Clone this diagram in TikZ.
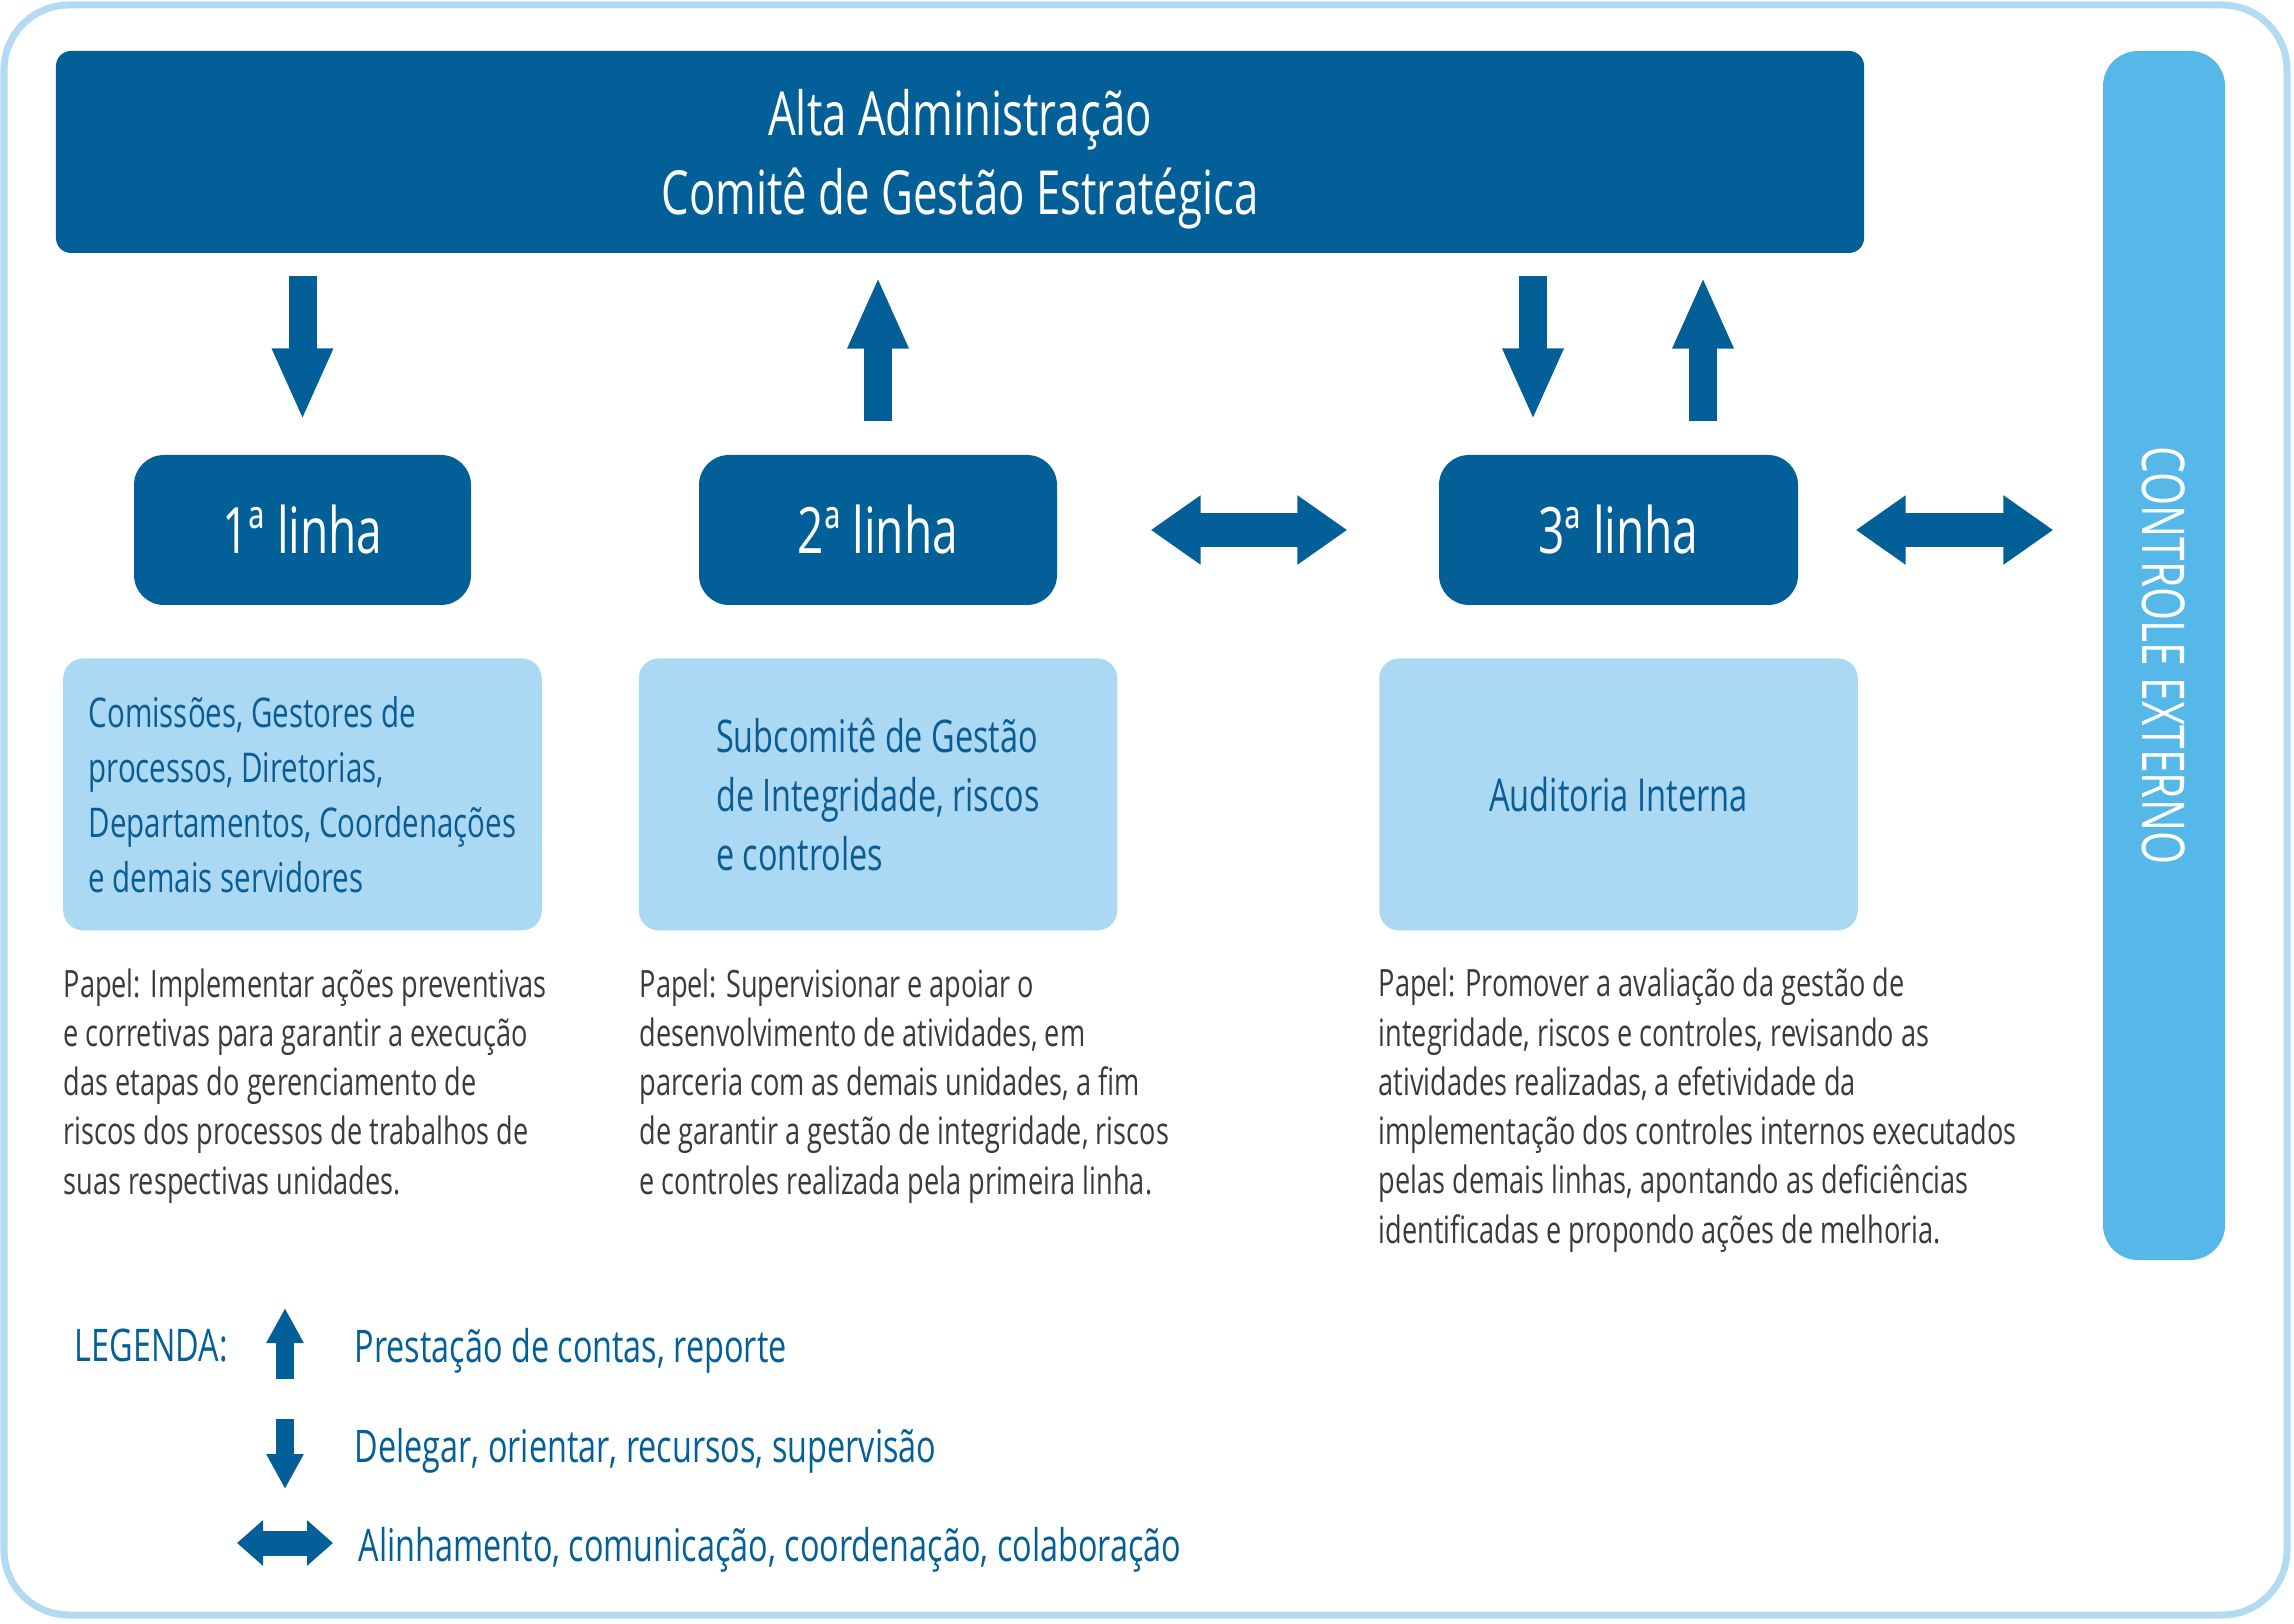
\documentclass[tikz,border=0pt]{standalone}
\usepackage{fontspec}
\setmainfont{Open Sans}[FakeStretch=0.72]
\usepackage{xcolor}
\usepackage{tikz}
\usetikzlibrary{arrows.meta, positioning}

\definecolor{darkblue}{HTML}{035F97}
\definecolor{lightbox}{HTML}{ABD8F3}
\definecolor{extblue}{HTML}{55B8E8}
\definecolor{framebl}{HTML}{B3DAF3}
\definecolor{papergray}{HTML}{3A3A3A}
\definecolor{boxtext}{HTML}{0A5C94}

\begin{document}
\begin{tikzpicture}[x=1mm, y=-1mm,
    linebox/.style={fill=darkblue, text=white, rounded corners=3mm, minimum height=15mm, font=\fontsize{18.2}{22}\selectfont},
    unitbox/.style={fill=lightbox, text=boxtext, rounded corners=2mm, minimum width=47.85mm, minimum height=27.2mm, align=left},
    papel/.style={anchor=base west, align=left, text=papergray, inner sep=0pt, font=\fontsize{10.72}{14}\selectfont},
    legtext/.style={anchor=base west, text=darkblue, inner sep=0pt, font=\fontsize{12.8}{15}\selectfont},
    bigarrow/.style={draw=darkblue, line width=2.8mm, -{Triangle[length=7.2mm, width=5.6mm]}},
    bothway/.style={draw=darkblue, line width=3.4mm, {Triangle[length=5mm, width=6.6mm]}-{Triangle[length=5mm, width=6.6mm]}},
    smallarrow/.style={draw=darkblue, line width=1.8mm, -{Triangle[length=3.5mm, width=3.5mm]}},
    smallboth/.style={draw=darkblue, line width=2.5mm, {Triangle[length=2.6mm, width=4.4mm]}-{Triangle[length=2.6mm, width=4.4mm]}}]
    \useasboundingbox (0,0) rectangle (229.4,162.4);

    % Frame
    \draw[framebl, line width=0.7mm, rounded corners=6.5mm] (0.4,0.5) rectangle (228.7,161.5);

    % Top management
    \node[fill=darkblue, text=white, rounded corners=1.5mm, minimum width=180.8mm, minimum height=20.2mm, align=center,
          text depth=0pt, font=\fontsize{17.3}{22.6}\selectfont] (alta) at (96.0,15.2) {Alta Administração\\Comitê de Gestão Estratégica};

    % Lines
    \node[linebox, minimum width=33.7mm] (l1) at (30.25,53.0) {1ª linha};
    \node[linebox, minimum width=35.8mm] (l2) at (87.8,53.0) {2ª linha};
    \node[linebox, minimum width=35.9mm] (l3) at (161.85,53.0) {3ª linha};

    % Units
    \node[unitbox, below=5.2mm of l1, font=\fontsize{11.65}{15.65}\selectfont] (u1)
        {Comissões, Gestores de\\processos, Diretorias,\\Departamentos, Coordenações\\e demais servidores};
    \node[unitbox, below=5.2mm of l2, font=\fontsize{12.8}{16.7}\selectfont] (u2)
        {Subcomitê de Gestão\\de Integridade, riscos\\e controles};
    \node[unitbox, below=5.2mm of l3, font=\fontsize{12.9}{16}\selectfont] (u3) {Auditoria Interna};

    % Roles (anchored on the last baseline)
    \node[papel] (p1) at (6.3,119.4) {Papel: Implementar ações preventivas\\e corretivas para garantir a execução\\das etapas do gerenciamento de\\riscos dos processos de trabalhos de\\suas respectivas unidades.};
    \node[papel] (p2) at (63.9,119.4) {Papel: Supervisionar e apoiar o\\desenvolvimento de atividades, em\\parceria com as demais unidades, a fim\\de garantir a gestão de integridade, riscos\\e controles realizada pela primeira linha.};
    \node[papel] (p3) at (137.8,124.3) {Papel: Promover a avaliação da gestão de\\integridade, riscos e controles, revisando as\\atividades realizadas, a efetividade da\\implementação dos controles internos executados\\pelas demais linhas, apontando as deficiências\\identificadas e propondo ações de melhoria.};

    % External control
    \node[fill=extblue, text=white, rounded corners=3.5mm, minimum width=12.2mm, minimum height=120.9mm,
          font=\fontsize{16.8}{20}\selectfont] (ext) at (216.4,65.55) {\rotatebox{-90}{CONTROLE EXTERNO}};

    % Arrows
    \draw[bigarrow] ([yshift=-2.2mm]alta.south -| l1) -- ([yshift=3.4mm]l1.north);
    \draw[bigarrow] ([yshift=3.3mm]l2.north) -- ([yshift=-2.3mm]alta.south -| l2);
    \draw[bigarrow] ([xshift=-8.55mm, yshift=-2.2mm]alta.south -| l3) -- ([xshift=-8.55mm, yshift=3.4mm]l3.north);
    \draw[bigarrow] ([xshift=8.45mm, yshift=3.3mm]l3.north) -- ([xshift=8.45mm, yshift=-2.3mm]alta.south -| l3);
    \draw[bothway] ([xshift=9.3mm]l2.east) -- ([xshift=-9.1mm]l3.west);
    \draw[bothway] ([xshift=5.7mm]l3.east) -- ([xshift=-4.9mm]l3.east -| ext.west);

    % Legend
    \node[legtext] (leg) at (7.4,136.1) {LEGENDA:};
    \node[legtext] (t1) at (35.4,136.2) {Prestação de contas, reporte};
    \node[legtext] (t2) at (35.4,146.2) {Delegar, orientar, recursos, supervisão};
    \node[legtext] (t3) at (35.8,156.1) {Alinhamento, comunicação, coordenação, colaboração};
    \coordinate (a1) at (28.5,137.9);
    \coordinate (a2) at (28.5,130.8);
    \coordinate (b1) at (28.5,141.9);
    \coordinate (b2) at (28.5,148.9);
    \coordinate (c1) at (23.7,154.3);
    \coordinate (c2) at (33.3,154.3);
    \foreach \i/\j in {a1/a2, b1/b2}
        \draw[smallarrow] (\i) -- (\j);
    \draw[smallboth] (c1) -- (c2);

\end{tikzpicture}
\end{document}
